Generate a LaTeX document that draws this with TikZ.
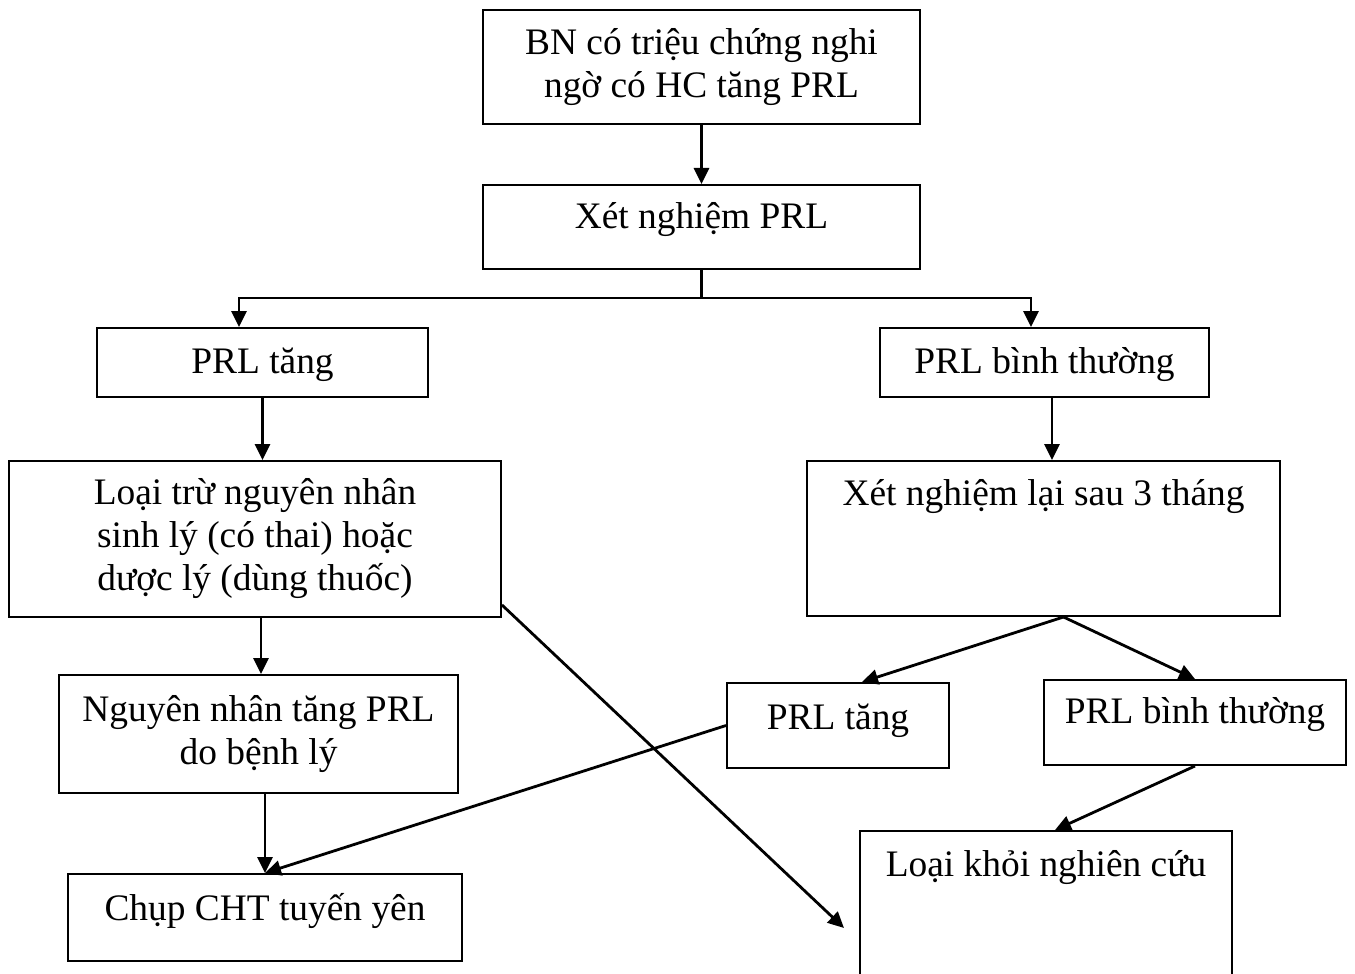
\documentclass[tikz,border=0pt]{standalone}
\usepackage{fontspec}
\setmainfont{Liberation Serif}
\usetikzlibrary{arrows.meta}

\begin{document}
\begin{tikzpicture}[
  x=0.5pt, y=-0.5pt,
  font=\fontsize{18.7}{21.5}\selectfont,
  box/.style={draw=black, line width=1pt, align=center, inner xsep=4pt},
  base/.style={inner ysep=0pt, text height=20pt, text depth=#1},
  arr/.style={draw=black, line width=1.4pt, -{Triangle[length=8pt,width=7.5pt]}},
  link/.style={draw=black, line width=1.4pt}
]
\useasboundingbox (0,0) rectangle (1355,974);
% left column
\node[box, minimum width=218.5pt, minimum height=57pt] (sym) at (701.5,67) {BN có triệu chứng nghi\\ngờ có HC tăng PRL};
\node[box, base=19pt, minimum width=218.5pt, minimum height=42pt] (xn) at (701.5,227) {Xét nghiệm PRL};
\node[box, base=9.5pt, minimum width=165.5pt, minimum height=34.5pt] (tang) at (262.5,362.5) {PRL tăng};
\node[box, minimum width=246pt, minimum height=78pt] (loaitru) at (255,539) {Loại trừ nguyên nhân\\sinh lý (có thai) hoặc\\dược lý (dùng thuốc)};
\node[box, minimum width=199.5pt, minimum height=59pt] (nn) at (258.5,734) {Nguyên nhân tăng PRL\\do bệnh lý};
\node[box, base=17.5pt, minimum width=197pt, minimum height=43.5pt] (cht) at (265,917.5) {Chụp CHT tuyến yên};
% right column
\node[box, base=9.5pt, minimum width=164.5pt, minimum height=34.5pt] (bt) at (1044.5,362.5) {PRL bình thường};
\node[box, base=53.5pt, minimum width=236.5pt, minimum height=77.5pt] (xnlai) at (1043.5,538.5) {Xét nghiệm lại sau 3 tháng};
\node[box, base=16.5pt, minimum width=111pt, minimum height=42.5pt] (tang2) at (838,725.5) {PRL tăng};
\node[box, base=19.5pt, minimum width=151pt, minimum height=42.5pt] (bt2) at (1195,722.5) {PRL bình thường};
\node[box, base=72pt, minimum width=186pt, minimum height=97pt] (loai) at (1046,928) {Loại khỏi nghiên cứu};

\coordinate (fork) at (701.5,298);
\coordinate (split) at ([xshift=10pt]xnlai.south);

\draw[arr] (sym.south) -- (xn.north);
\draw[link] (xn.south) -- (fork);
\draw[arr] (fork) -| ([xshift=-11.75pt]tang.north);
\draw[arr] (fork) -| ([xshift=-6.75pt]bt.north);
\draw[arr] (tang.south) -- (tang.south |- loaitru.north);
\draw[arr] ([xshift=3pt]loaitru.south) -- ([xshift=3pt]loaitru.south |- nn.north);
\draw[arr] (nn.south -| cht.north) -- (cht.north);
\draw[arr] ([yshift=6.5pt]loaitru.south east) -- ([xshift=-7.5pt]loai.west);
\draw[arr] ([xshift=3.75pt]bt.south) -- ([xshift=3.75pt]bt.south |- xnlai.north);
\draw[arr] (split) -- ([xshift=12pt]tang2.north);
\draw[arr] (split) -- (bt2.north);
\draw[arr] (tang2.west) -- (cht.north);
\draw[arr] (bt2.south) -- ([xshift=4.5pt]loai.north);
\end{tikzpicture}
\end{document}
